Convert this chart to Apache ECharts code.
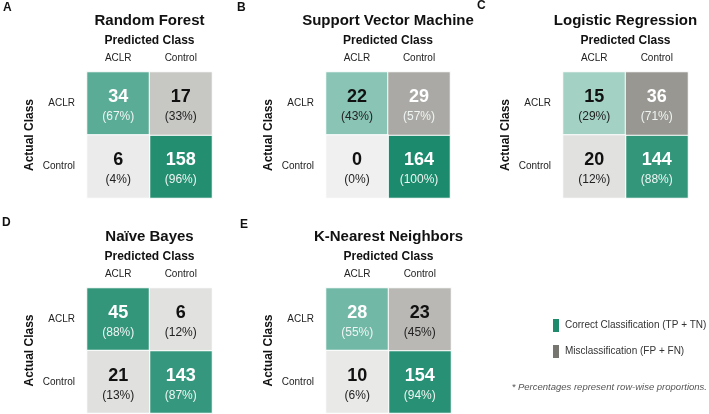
<!DOCTYPE html>
<html>
<head>
<meta charset="utf-8">
<script src="https://cdn.jsdelivr.net/npm/echarts@6/dist/echarts.min.js"></script>
<style>
  html, body { margin: 0; padding: 0; background: #fff; }
  #main { width: 709px; height: 414px; }
</style>
</head>
<body>
<div id="main"></div>
<script>
// data
const models = ['Random Forest', 'Support Vector Machine', 'Logistic Regression', 'Naïve Bayes', 'K-Nearest Neighbors'];
const panelLetters = ['A', 'B', 'C', 'D', 'E'];
const predLabels = ['ACLR', 'Control'];
const actualLabels = ['ACLR', 'Control'];
// counts per model: [ACLR->ACLR, ACLR->Control, Control->ACLR, Control->Control]
const counts = [
  [34, 17, 6, 158],
  [22, 29, 0, 164],
  [15, 36, 20, 144],
  [45, 6, 21, 143],
  [28, 23, 10, 154]
];
// row-wise percentages (same order)
const pcts = [
  [67, 33, 4, 96],
  [43, 57, 0, 100],
  [29, 71, 12, 88],
  [88, 12, 13, 87],
  [55, 45, 6, 94]
];
const legendNames = ['Correct Classification (TP + TN)', 'Misclassification (FP + FN)'];

const font = 'Liberation Sans, Arial, Helvetica, sans-serif';

// panel layout
const boxes = [
  { left: 87, top: 72, width: 125, height: 126 },
  { left: 326, top: 72, width: 124, height: 126 },
  { left: 563, top: 72, width: 125, height: 126 },
  { left: 87, top: 288, width: 125, height: 125 },
  { left: 326, top: 288, width: 125, height: 125 }
];
const letterPos = [[3, 2], [237, 2], [477, 0], [2, 217], [240, 219]];

const chart = echarts.init(document.getElementById('main'), null, { renderer: 'canvas' });

const grids = [], xAxes = [], yAxes = [], series = [], titles = [];
const correctIdx = [], missIdx = [];

function cellLabel(p) {
  const pct = p.value[2], n = p.value[3];
  const k = pct > 50 ? 'w' : 'd';
  return '{' + k + 'n|' + n + '}\n{' + k + 'p|(' + pct + '%)}';
}
const labelRich = {
  dn: { fontSize: 18, fontWeight: 'bold', color: '#111', lineHeight: 21, fontFamily: font },
  dp: { fontSize: 12, color: '#222', lineHeight: 18, fontFamily: font },
  wn: { fontSize: 18, fontWeight: 'bold', color: '#fff', lineHeight: 21, fontFamily: font },
  wp: { fontSize: 12, color: '#eef5f2', lineHeight: 18, fontFamily: font }
};

models.forEach((m, i) => {
  const b = boxes[i];
  grids.push({ left: b.left, top: b.top, width: b.width, height: b.height });
  xAxes.push({
    type: 'category', gridIndex: i, data: predLabels, position: 'top',
    axisLine: { show: false }, axisTick: { show: false }, splitLine: { show: false },
    axisLabel: { fontSize: 10, color: '#222', margin: 9, fontFamily: font },
    name: 'Predicted Class', nameLocation: 'middle', nameGap: 25,
    nameTextStyle: { fontSize: 12, fontWeight: 'bold', color: '#111', fontFamily: font }
  });
  yAxes.push({
    type: 'category', gridIndex: i, data: actualLabels, inverse: true,
    axisLine: { show: false }, axisTick: { show: false }, splitLine: { show: false },
    axisLabel: { fontSize: 10, color: '#222', margin: 12, fontFamily: font },
    name: 'Actual Class', nameLocation: 'middle', nameGap: 51, nameRotate: 90,
    nameTextStyle: { fontSize: 12, fontWeight: 'bold', color: '#111', fontFamily: font }
  });
  const c = counts[i], p = pcts[i];
  const cells = [[0, 0], [1, 0], [0, 1], [1, 1]];
  const right = [], wrong = [];
  cells.forEach((xy, k) => {
    const d = [xy[0], xy[1], p[k], c[k]];
    (xy[0] === xy[1] ? right : wrong).push(d);
  });
  [[legendNames[0], right, correctIdx], [legendNames[1], wrong, missIdx]].forEach(s => {
    s[2].push(series.length);
    series.push({
      name: s[0], type: 'heatmap', xAxisIndex: i, yAxisIndex: i, data: s[1],
      itemStyle: { borderColor: '#fff', borderWidth: 1 },
      label: { show: true, formatter: cellLabel, rich: labelRich, offset: [0, 3] },
      emphasis: { disabled: true }
    });
  });
  titles.push({
    text: m, left: b.left + b.width / 2, top: b.top - 59, textAlign: 'center', padding: 0,
    textStyle: { fontSize: 15, fontWeight: 'bold', color: '#111', fontFamily: font }
  });
  titles.push({
    text: panelLetters[i], left: letterPos[i][0], top: letterPos[i][1], padding: 0,
    textStyle: { fontSize: 12, fontWeight: 'bold', color: '#111', fontFamily: font }
  });
});

titles.push({
  text: '* Percentages represent row-wise proportions.', right: 2, top: 382, padding: 0,
  textStyle: { fontSize: 9.5, fontStyle: 'italic', fontWeight: 'normal', color: '#555', fontFamily: font }
});

chart.setOption({
  animation: false,
  title: titles,
  grid: grids,
  xAxis: xAxes,
  yAxis: yAxes,
  legend: {
    orient: 'vertical', left: 551, top: 317, itemWidth: 8, itemHeight: 15, itemGap: 9,
    icon: 'rect', selectedMode: false, padding: 0,
    data: [
      { name: legendNames[0], itemStyle: { color: '#1f8b6c' } },
      { name: legendNames[1], itemStyle: { color: '#76756f' } }
    ],
    textStyle: { fontSize: 10, color: '#333', fontFamily: font }
  },
  visualMap: [
    {
      type: 'continuous', show: false, min: 0, max: 100, dimension: 2, seriesIndex: correctIdx,
      inRange: { color: ['#d8ece6', '#7cbdac', '#1c8a6c'] }
    },
    {
      type: 'continuous', show: false, min: 0, max: 100, dimension: 2, seriesIndex: missIdx,
      inRange: { color: ['#f0f0f0', '#75736c'] }
    }
  ],
  series: series
});
</script>
</body>
</html>
